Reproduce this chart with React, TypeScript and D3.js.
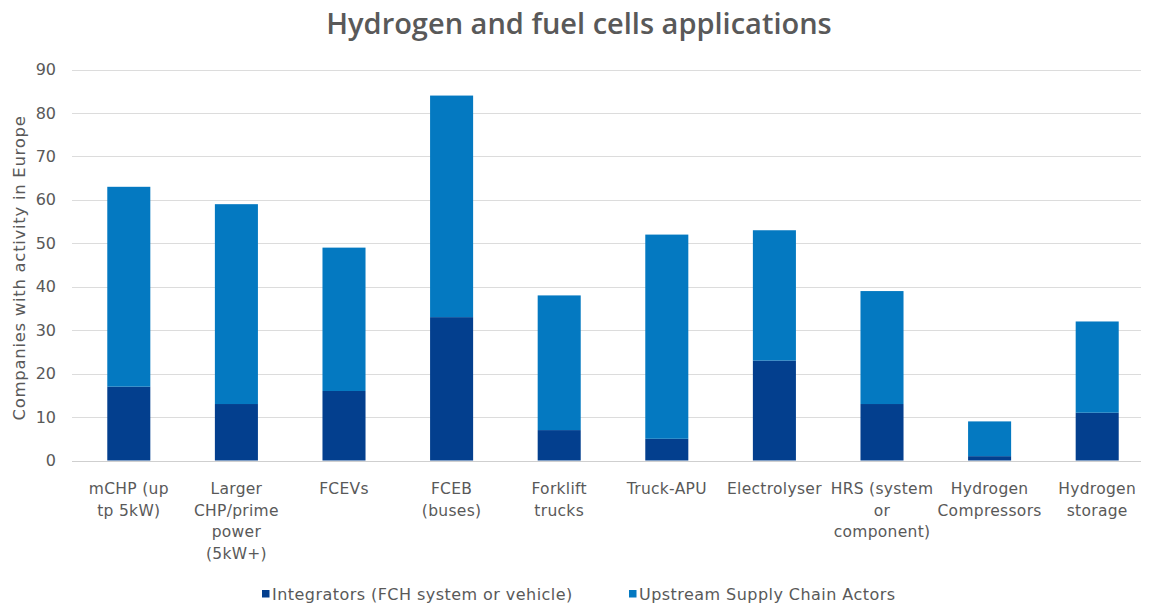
import React, { useEffect, useRef } from 'react'
import * as d3 from 'd3'

const categories = [
    ['mCHP (up', 'tp 5kW)'],
    ['Larger', 'CHP/prime', 'power', '(5kW+)'],
    ['FCEVs'],
    ['FCEB', '(buses)'],
    ['Forklift', 'trucks'],
    ['Truck-APU'],
    ['Electrolyser'],
    ['HRS (system', 'or', 'component)'],
    ['Hydrogen', 'Compressors'],
    ['Hydrogen', 'storage']
]

const integrators = [17, 13, 16, 33, 7, 5, 23, 13, 1, 11]
const upstream = [46, 46, 33, 51, 31, 47, 30, 26, 8, 21]

const seriesNames = ['Integrators (FCH system or vehicle)', 'Upstream Supply Chain Actors']
const yTicks = [0, 10, 20, 30, 40, 50, 60, 70, 80, 90]

const colors = ['#033f8e', '#0479c1']
const textColor = '#595959'
const labelFont = '"DejaVu Sans", sans-serif'

function App() {
    const chartRef = useRef(null)

    useEffect(() => {
        drawChart()
    }, [])

    function drawChart() {
        const width = 1151, height = 606
        const margin = { top: 69.5, right: 0, bottom: 145, left: 75 }

        d3.select(chartRef.current).selectAll('*').remove()

        const svg = d3.select(chartRef.current)
            .append('svg')
            .attr('width', width)
            .attr('height', height)
            .style('position', 'absolute')
            .style('left', 0)
            .style('top', 0)
            .style('background', '#fff')

        const data = categories.map((c, i) => ({
            key: i,
            integrators: integrators[i],
            upstream: upstream[i]
        }))

        const x = d3.scaleBand()
            .domain(data.map(d => d.key))
            .range([margin.left, width - margin.right])
            .paddingInner(0.6)
            .paddingOuter(0.3)

        const y = d3.scaleLinear()
            .domain([0, 90])
            .range([height - margin.bottom - 0.5, margin.top])

        // gridlines
        svg.append('g')
            .selectAll('line')
            .data(yTicks)
            .enter()
            .append('line')
            .attr('x1', 72)
            .attr('x2', 1141)
            .attr('y1', d => Math.round(y(d)) + 0.5)
            .attr('y2', d => Math.round(y(d)) + 0.5)
            .attr('stroke', d => d === 0 ? '#cfcfcf' : '#dcdcdc')
            .attr('stroke-width', 1.2)

        // y tick labels
        svg.append('g')
            .selectAll('text')
            .data(yTicks)
            .enter()
            .append('text')
            .attr('x', 56)
            .attr('y', d => y(d))
            .attr('dy', '0.35em')
            .attr('text-anchor', 'end')
            .style('font-family', labelFont)
            .style('font-size', '16px')
            .style('fill', textColor)
            .text(d => d)

        // stacked bars
        const stacked = d3.stack().keys(['integrators', 'upstream'])(data)

        svg.append('g')
            .selectAll('g')
            .data(stacked)
            .enter()
            .append('g')
            .attr('fill', (d, i) => colors[i])
            .selectAll('rect')
            .data(d => d)
            .enter()
            .append('rect')
            .attr('x', d => x(d.data.key))
            .attr('width', x.bandwidth())
            .attr('y', d => y(d[1]))
            .attr('height', d => y(d[0]) - y(d[1]))

        // category labels
        const labels = svg.append('g')
            .selectAll('text')
            .data(categories)
            .enter()
            .append('text')
            .attr('text-anchor', 'middle')
            .style('font-family', labelFont)
            .style('font-size', '15.5px')
            .style('letter-spacing', '0.3px')
            .style('fill', textColor)

        labels.selectAll('tspan')
            .data((d, i) => d.map(line => ({ line, i })))
            .enter()
            .append('tspan')
            .attr('x', d => x(d.i) + x.bandwidth() / 2)
            .attr('y', (d, j) => 494 + j * 21.5)
            .text(d => d.line)

        // y axis title
        svg.append('text')
            .attr('transform', 'translate(25,268) rotate(-90)')
            .attr('text-anchor', 'middle')
            .style('font-family', labelFont)
            .style('font-size', '16.5px')
            .style('letter-spacing', '0.7px')
            .style('fill', textColor)
            .text('Companies with activity in Europe')

        // title
        svg.append('text')
            .attr('x', 579)
            .attr('y', 34)
            .attr('text-anchor', 'middle')
            .style('font-family', '"Open Sans", sans-serif')
            .style('font-weight', 600)
            .style('font-size', '29px')
            .style('fill', textColor)
            .text('Hydrogen and fuel cells applications')

        // legend
        const legendX = [262, 629]
        const legend = svg.append('g')
            .selectAll('g')
            .data(seriesNames)
            .enter()
            .append('g')
            .attr('transform', (d, i) => 'translate(' + legendX[i] + ',590)')
        legend.append('rect')
            .attr('width', 7.5)
            .attr('height', 7.5)
            .attr('fill', (d, i) => colors[i])
        legend.append('text')
            .attr('x', 10)
            .attr('y', 4)
            .attr('dy', '0.35em')
            .style('font-family', labelFont)
            .style('font-size', '16px')
            .style('letter-spacing', '0.45px')
            .style('fill', textColor)
            .text(d => d)
    }

    return (
        <div>
            <div ref={chartRef}></div>
        </div>
    )
}

export default App
